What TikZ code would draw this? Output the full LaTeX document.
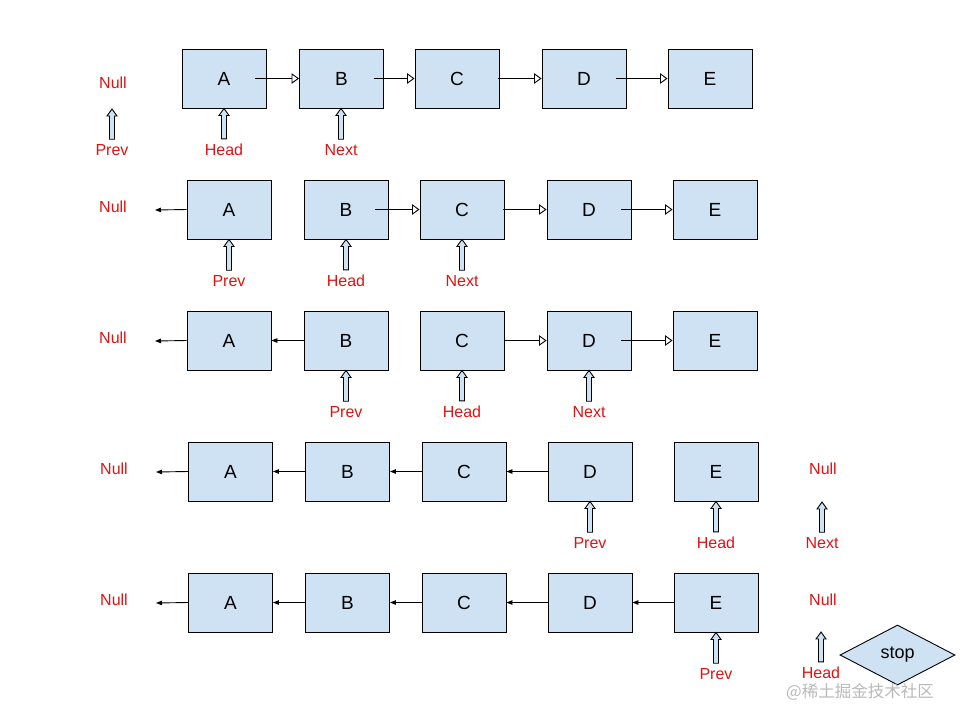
\documentclass[tikz,border=0pt]{standalone}
\usepackage{fontspec}
\setmainfont{Liberation Sans}
\newfontfamily\cjkfont{Noto Sans CJK SC}
\usetikzlibrary{arrows.meta,calc,shapes.geometric}

\definecolor{boxblue}{RGB}{207,226,243}
\definecolor{ptrred}{RGB}{220,20,20}

\tikzset{
    node box/.style={draw, line width=0.9pt, fill=boxblue, minimum width=84pt, minimum height=59pt, inner sep=0pt, font=\fontsize{19}{21}\selectfont},
    ptr label/.style={text=ptrred, inner sep=2pt, font=\fontsize{16}{18}\selectfont},
    link/.style={line width=0.9pt, -{Triangle[open,length=7.5pt,width=10.5pt]}},
    back link/.style={line width=0.9pt, -{Triangle[length=6pt,width=4.5pt]}},
    ptr/.style={draw, line width=0.9pt, fill=boxblue, to path={
        let \p1=(\tikztostart), \p2=(\tikztotarget) in
        (\x1-2.5pt,\y1+3pt) -- (\x1-2.5pt,\y2-7pt) -- (\x1-5pt,\y2-7pt) -- (\x1,\y2)
        -- (\x1+5pt,\y2-7pt) -- (\x1+2.5pt,\y2-7pt) -- (\x1+2.5pt,\y1+3pt) -- cycle}},
}

\begin{document}
\begin{tikzpicture}[x=1pt, y=-1pt]
    \useasboundingbox (0,0) rectangle (960,720);

    % step 1
    \node[ptr label] (null1) at (113,83) {Null};
    \foreach \n/\x in {A/224,B/341.5,C/457,D/584,E/710}
        \node[node box] (\n1) at (\x,78.5) {\n};
    \draw[link] ([xshift=-11pt]A1.east) -- (B1.west);
    \draw[link] ([xshift=-10pt]B1.east) -- (C1.west);
    \draw[link] ([xshift=-1pt]C1.east) -- (D1.west);
    \draw[link] ([xshift=-10pt]D1.east) -- (E1.west);

    \node[ptr label] (prev1) at (112,150) {Prev};
    \node[ptr label] (head1) at (224,150) {Head};
    \node[ptr label] (next1) at (341,150) {Next};
    \coordinate (prev1tip) at (112,109);
    \draw[ptr] (prev1.north) to (prev1tip);
    \draw[ptr] (head1.north) to (A1.south);
    \draw[ptr] (next1.north) to (B1.south);

    % step 2
    \node[ptr label] (null2) at (113,207) {Null};
    \foreach \n/\x in {A/229,B/346,C/462,D/589,E/715}
        \node[node box] (\n2) at (\x,209.5) {\n};
    \coordinate (end2) at (155,210);
    \draw[back link] (A2.west) -- (end2);
    \draw[link] ([xshift=-13pt]B2.east) -- (C2.west);
    \draw[link] ([xshift=-1pt]C2.east) -- (D2.west);
    \draw[link] ([xshift=-10pt]D2.east) -- (E2.west);

    \node[ptr label] (prev2) at (229,281) {Prev};
    \node[ptr label] (head2) at (346,281) {Head};
    \node[ptr label] (next2) at (462,281) {Next};
    \draw[ptr] (prev2.north) to (A2.south);
    \draw[ptr] (head2.north) to (B2.south);
    \draw[ptr] (next2.north) to (C2.south);

    % step 3
    \node[ptr label] (null3) at (113,338) {Null};
    \foreach \n/\x in {A/229,B/346,C/462,D/589,E/715}
        \node[node box] (\n3) at (\x,340.5) {\n};
    \coordinate (end3) at (155,341);
    \draw[back link] (A3.west) -- (end3);
    \draw[back link] (B3.west) -- (A3.east);
    \draw[link] (C3.east) -- (D3.west);
    \draw[link] ([xshift=-10pt]D3.east) -- (E3.west);

    \node[ptr label] (prev3) at (346,412) {Prev};
    \node[ptr label] (head3) at (462,412) {Head};
    \node[ptr label] (next3) at (589,412) {Next};
    \draw[ptr] (prev3.north) to (B3.south);
    \draw[ptr] (head3.north) to (C3.south);
    \draw[ptr] (next3.north) to (D3.south);

    % step 4
    \node[ptr label] (null4) at (114,469) {Null};
    \foreach \n/\x in {A/230.5,B/347.5,C/464,D/590,E/716}
        \node[node box] (\n4) at (\x,471.5) {\n};
    \coordinate (end4) at (156,472);
    \draw[back link] (A4.west) -- (end4);
    \draw[back link] (B4.west) -- (A4.east);
    \draw[back link] (C4.west) -- (B4.east);
    \draw[back link] (D4.west) -- (C4.east);

    \node[ptr label] (nullr4) at (823,469) {Null};
    \node[ptr label] (prev4) at (590,543) {Prev};
    \node[ptr label] (head4) at (716,543) {Head};
    \node[ptr label] (next4) at (822,543) {Next};
    \coordinate (next4tip) at (822,502);
    \draw[ptr] (prev4.north) to (D4.south);
    \draw[ptr] (head4.north) to (E4.south);
    \draw[ptr] (next4.north) to (next4tip);

    % step 5
    \node[ptr label] (null5) at (114,600) {Null};
    \foreach \n/\x in {A/230.5,B/347.5,C/464,D/590,E/716}
        \node[node box] (\n5) at (\x,602.5) {\n};
    \coordinate (end5) at (156,603);
    \draw[back link] (A5.west) -- (end5);
    \draw[back link] (B5.west) -- (A5.east);
    \draw[back link] (C5.west) -- (B5.east);
    \draw[back link] (D5.west) -- (C5.east);
    \draw[back link] (E5.west) -- (D5.east);

    \node[ptr label] (nullr5) at (823,600) {Null};
    \node[ptr label] (prev5) at (716,674) {Prev};
    \node[ptr label] (head5) at (821,673) {Head};
    \coordinate (head5tip) at (821,632);
    \draw[ptr] (prev5.north) to (E5.south);
    \draw[ptr] (head5.north) to (head5tip);

    \node[draw, diamond, line width=0.9pt, fill=boxblue, minimum width=115pt, minimum height=60pt, inner sep=0pt, font=\fontsize{18}{20}\selectfont] (stop) at (897.5,655) {stop};

    \node[text=gray!55, inner sep=0pt, font=\cjkfont\fontsize{16.5}{18}\selectfont] (mark) at (860,692) {@稀土掘金技术社区};
\end{tikzpicture}
\end{document}
